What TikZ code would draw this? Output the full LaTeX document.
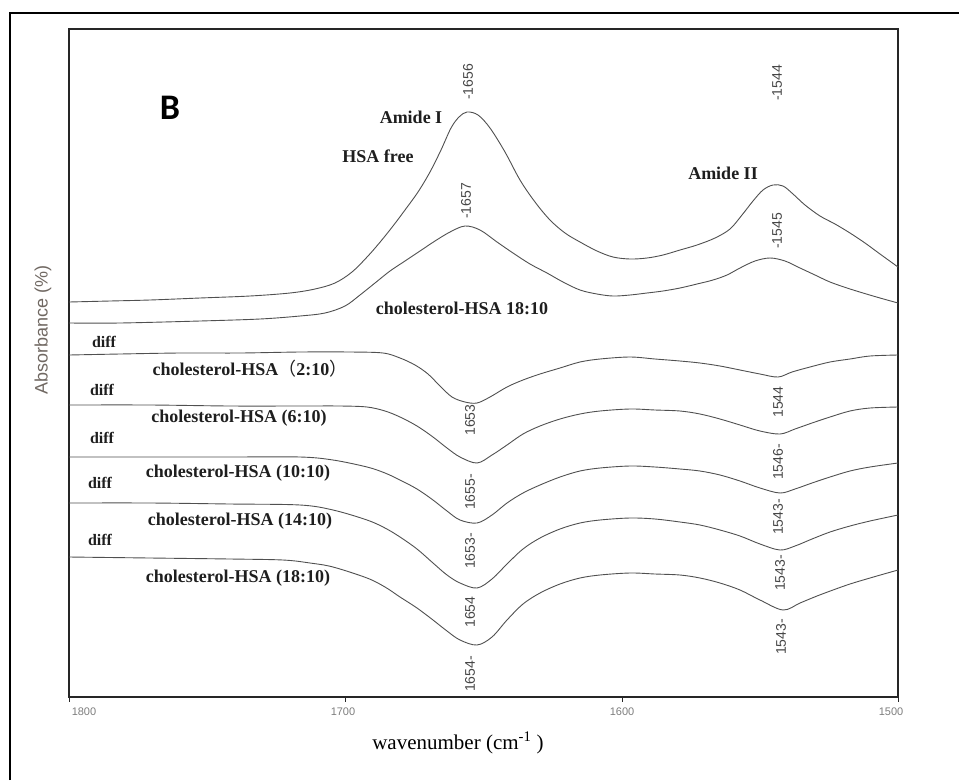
\documentclass[tikz,border=0pt]{standalone}
\usepackage{fontspec}
\setmainfont{Liberation Serif}
\newfontfamily\arialfont{Liberation Sans}
\newfontfamily\calfont{Carlito}
\newfontfamily\cjk{Noto Sans CJK SC}
\usetikzlibrary{positioning}
\definecolor{curvegray}{RGB}{80,80,80}
\definecolor{labblack}{RGB}{30,30,30}
\definecolor{numgray}{RGB}{70,70,70}
\definecolor{tickgray}{RGB}{125,125,125}
\definecolor{absgray}{RGB}{112,104,98}

\begin{document}
\begin{tikzpicture}[x=1pt,y=-1pt,
	spec/.style={curvegray,line width=0.9pt},
	smo/.style={smooth,tension=0.55},
	lab/.style={font=\fontsize{18}{18}\selectfont\bfseries,text=labblack,inner sep=0pt},
	peak/.style={font=\arialfont\fontsize{14}{14}\selectfont,text=numgray,rotate=90,inner sep=0pt},
	ticklab/.style={font=\arialfont\fontsize{11}{11}\selectfont,text=tickgray,inner sep=0pt}]
		\useasboundingbox (0,0) rectangle (959,780);
		% frames
		\draw[line width=1.6pt] (10,780) -- (10,13) -- (959,13);
		\draw[line width=1.8pt,black!85] (69,29) rectangle (898,697);
		\foreach \x/\w/\lx in {69/1800/84,345/1700/343,622/1600/622,898/1500/891}{
			\draw[line width=1pt,black!85] (\x,697) -- (\x,702);
			\node[ticklab] (t\w) at (\lx,712) {\w};
		}
		
		% spectra
		\draw[spec] plot[smo] coordinates {(69,302) (110,301) (150,300) (200,298) (250,296) (290,293) (315,289) (335,283) (352,272) (368,256) (381,241) (393,226) (405,210) (418,192) (430,172) (441,150) (451,128) (459,117) (467,112) (478,115) (490,128) (505,152) (520,180) (535,202) (550,220) (565,233) (580,242) (597,251) (613,257) (630,259) (647,258) (663,255) (680,250) (697,245) (715,238) (730,229) (742,215) (753,201) (763,190) (773,185) (783,186) (793,194) (805,205) (820,216) (835,224) (850,233) (865,243) (880,254) (898,267)};
		\draw[spec] plot[smo] coordinates {(69,323) (120,323) (200,321) (260,319) (300,316) (325,313) (345,306) (360,295) (375,283) (390,271) (405,261) (420,251) (435,241) (450,232) (465,226) (480,230) (497,242) (513,253) (530,264) (547,273) (563,282) (580,290) (597,294) (613,296) (630,295) (647,293) (663,291) (680,288) (697,284) (713,280) (727,275) (740,268) (755,261) (770,258) (785,261) (800,268) (815,275) (830,282) (847,288) (863,293) (880,298) (898,303)};
		% diff spectra
		\draw[spec] plot[smo] coordinates {(69,355) (120,354) (180,353) (240,353) (300,352) (350,352) (383,353) (400,358) (415,365) (428,374) (440,386) (452,397) (465,402) (477,403) (490,397) (507,387) (523,380) (540,374) (560,368) (580,362) (600,359) (630,357) (655,359) (680,361) (700,363) (720,366) (740,370) (760,374) (778,377) (792,372) (810,367) (830,362) (850,359) (870,356) (898,355)};
		\draw[spec] plot[smo] coordinates {(69,405) (150,405) (230,406) (300,406) (340,406) (367,407) (385,411) (400,417) (417,426) (433,437) (447,448) (460,457) (477,463) (492,455) (507,445) (523,434) (540,426) (560,419) (580,414) (600,411) (630,409) (655,410) (680,411) (700,414) (720,419) (740,425) (760,431) (780,434) (795,429) (812,423) (830,417) (850,411) (870,408) (898,407)};
		\draw[spec] plot[smo] coordinates {(69,457) (150,457) (230,457) (300,457) (333,460) (367,467) (385,473) (400,480) (417,489) (433,500) (447,511) (460,520) (477,523) (492,515) (507,503) (523,493) (540,485) (560,477) (580,471) (600,468) (630,466) (655,467) (680,469) (700,471) (720,475) (740,481) (760,488) (780,493) (795,489) (812,483) (830,477) (850,471) (870,467) (898,463)};
		\draw[spec] plot[smo] coordinates {(69,503) (150,503) (230,504) (300,505) (333,510) (367,520) (385,528) (400,537) (417,549) (433,563) (447,575) (460,583) (477,588) (492,579) (507,564) (523,549) (540,538) (560,529) (580,523) (600,520) (630,518) (655,519) (680,522) (700,525) (720,530) (740,536) (760,544) (780,550) (795,546) (812,539) (830,532) (850,526) (870,521) (898,515)};
		\draw[spec] plot[smo] coordinates {(69,557) (150,558) (230,559) (283,560) (310,563) (333,567) (367,578) (385,587) (400,597) (417,608) (433,620) (447,631) (460,640) (477,645) (492,637) (507,620) (523,604) (540,593) (560,584) (580,578) (600,575) (630,573) (655,574) (680,575) (700,578) (720,583) (740,590) (760,600) (783,610) (800,603) (817,596) (833,590) (850,584) (870,578) (898,570)};
		
		% labels
		\node[font=\calfont\fontsize{36}{36}\selectfont\bfseries,inner sep=0pt] (panel) at (170,108) {B};
		\node[lab] (amidei) at (411,117) {Amide I};
		\node[lab] (free) at (378,156) {HSA free};
		\node[lab] (amideii) at (723,173) {Amide II};
		\node[lab] (chol) at (462,308) {cholesterol-HSA 18:10};
		\node[peak] (p1656) at (468,82) {-1656};
		\node[peak] (p1544) at (777,83) {-1544};
		\node[peak] (p1657) at (466,201) {-1657};
		\node[peak] (p1545) at (777,231) {-1545};
		
		\def\ds{\fontsize{16}{16}\selectfont\bfseries}
		\node[lab,font=\ds] (diffa) at (104,342) {diff};
		\node[lab,font=\ds] (diffb) at (102,390) {diff};
		\node[lab,font=\ds] (diffc) at (102,438) {diff};
		\node[lab,font=\ds] (diffd) at (100,483) {diff};
		\node[lab,font=\ds] (diffe) at (100,540) {diff};
		\node[lab] (ca) at (250,369) {cholesterol-HSA{\cjk\mdseries （}2:10{\cjk\mdseries ）}};
		\node[lab] (cb) at (239,418) {cholesterol-HSA (6:10)};
		\node[lab] (cc) at (238,473) {cholesterol-HSA (10:10)};
		\node[lab] (cd) at (240,521) {cholesterol-HSA (14:10)};
		\node[lab] (ce) at (238,578) {cholesterol-HSA (18:10)};
		
		\node[peak] (m1653) at (470,420) {1653};
		\node[peak] (m1655) at (470,492) {1655-};
		\node[peak] (m1653b) at (470,551) {1653-};
		\node[peak] (m1654) at (470,612) {1654};
		\node[peak] (m1654b) at (470,674) {1654-};
		\node[peak] (m1544) at (778,402) {1544};
		\node[peak] (m1546) at (778,462) {1546-};
		\node[peak] (m1543) at (778,517) {1543-};
		\node[peak] (m1543b) at (780,573) {1543-};
		\node[peak] (m1543c) at (781,637) {1543-};
		
		% axis titles
		\node[font=\fontsize{21}{21}\selectfont,inner sep=0pt] (xtitle) at (458,743) {wavenumber (cm\textsuperscript{-1} )};
		\node[font=\arialfont\fontsize{18}{18}\selectfont,text=absgray,rotate=90,inner sep=0pt] (ytitle) at (43,330) {Absorbance (\%)};
\end{tikzpicture}
\end{document}
